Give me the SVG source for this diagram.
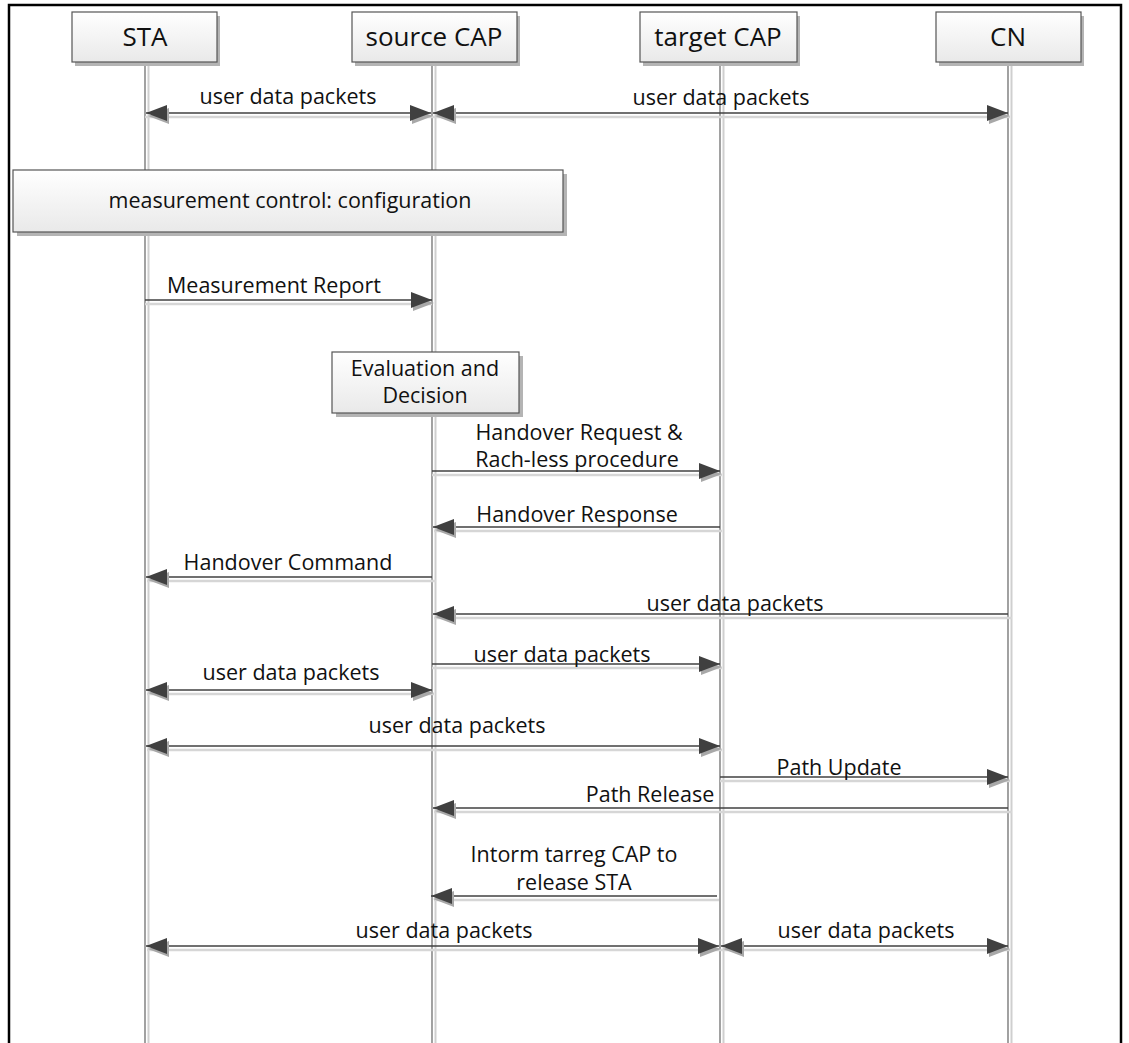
<svg xmlns="http://www.w3.org/2000/svg" width="1129" height="1043" viewBox="0 0 1129 1043">
<defs>
<linearGradient id="boxg" x1="0" y1="0" x2="0" y2="1">
<stop offset="0" stop-color="#ffffff"/>
<stop offset="1" stop-color="#e9e9e9"/>
</linearGradient>
<marker id="hR" markerUnits="userSpaceOnUse" markerWidth="30" markerHeight="30" refX="23" refY="12" orient="0" overflow="visible">
<path d="M4,7 L25,15 L4,23 Z" fill="#a8a8a8"/>
<path d="M2,4 L23,12 L2,20 Z" fill="#404040"/>
</marker>
<marker id="hL" markerUnits="userSpaceOnUse" markerWidth="30" markerHeight="30" refX="1" refY="12" orient="0" overflow="visible">
<path d="M24,7 L3,15 L24,23 Z" fill="#a8a8a8"/>
<path d="M22,4 L1,12 L22,20 Z" fill="#404040"/>
</marker>
</defs>
<style>
text{font-family:"Open Sans","Noto Sans","DejaVu Sans",sans-serif;fill:#111;}
.hd{font-size:26px;text-anchor:middle;}
.lb{font-size:21.5px;text-anchor:middle;}
.box{fill:url(#boxg);stroke:#555;stroke-width:1.2;}
.shd{fill:#b4b4b4;}
.ll{stroke:#555;stroke-width:1.1;}
.lls{stroke:#cfcfcf;stroke-width:2;}
.m{stroke:#404040;stroke-width:1.3;fill:none;}
.ms{stroke:#d6d6d6;stroke-width:2.5;fill:none;}
</style>
<rect width="1129" height="1043" fill="#fff"/>
<rect x="9" y="5" width="1112" height="1060" fill="none" stroke="#000" stroke-width="2.5"/>

<g id="STA">
<line class="lls" x1="148.5" y1="62" x2="148.5" y2="1043"/>
<line class="ll" x1="145" y1="62" x2="145" y2="1043"/>
<rect class="shd" x="75" y="16" width="145" height="50"/>
<rect class="box" x="72" y="12" width="145" height="50"/>
<text class="hd" x="145" y="46">STA</text>
</g>
<g id="sourceCAP">
<line class="lls" x1="435.5" y1="62" x2="435.5" y2="1043"/>
<line class="ll" x1="432" y1="62" x2="432" y2="1043"/>
<rect class="shd" x="355" y="16" width="165" height="50"/>
<rect class="box" x="352" y="12" width="165" height="50"/>
<text class="hd" x="434" y="46">source CAP</text>
</g>
<g id="targetCAP">
<line class="lls" x1="723.5" y1="62" x2="723.5" y2="1043"/>
<line class="ll" x1="720" y1="62" x2="720" y2="1043"/>
<rect class="shd" x="643" y="16" width="157" height="50"/>
<rect class="box" x="640" y="12" width="157" height="50"/>
<text class="hd" x="718" y="46">target CAP</text>
</g>
<g id="CN">
<line class="lls" x1="1011.5" y1="62" x2="1011.5" y2="1043"/>
<line class="ll" x1="1008" y1="62" x2="1008" y2="1043"/>
<rect class="shd" x="939" y="16" width="145" height="50"/>
<rect class="box" x="936" y="12" width="145" height="50"/>
<text class="hd" x="1008" y="46">CN</text>
</g>

<g id="measurementControl">
<rect class="shd" x="17" y="174" width="550" height="62"/>
<rect class="box" x="13" y="170" width="550" height="62"/>
<text class="lb" x="290" y="208">measurement control: configuration</text>
</g>
<g id="evaluation">
<rect class="shd" x="336" y="356" width="187" height="61"/>
<rect class="box" x="332" y="352" width="187" height="61"/>
<text class="lb" x="425" y="376">Evaluation and</text>
<text class="lb" x="425" y="403">Decision</text>
</g>

<g id="connectors">
<g id="shadows">
<line class="ms" x1="145" y1="117" x2="432" y2="117"/>
<line class="ms" x1="432" y1="117" x2="1010" y2="117"/>
<line class="ms" x1="145" y1="304" x2="432" y2="304"/>
<line class="ms" x1="432" y1="475" x2="722" y2="475"/>
<line class="ms" x1="434" y1="531" x2="722" y2="531"/>
<line class="ms" x1="147" y1="581" x2="436" y2="581"/>
<line class="ms" x1="434" y1="618" x2="1012" y2="618"/>
<line class="ms" x1="432" y1="668" x2="722" y2="668"/>
<line class="ms" x1="147" y1="694" x2="434" y2="694"/>
<line class="ms" x1="147" y1="750" x2="722" y2="750"/>
<line class="ms" x1="720" y1="781" x2="1010" y2="781"/>
<line class="ms" x1="434" y1="812" x2="1012" y2="812"/>
<line class="ms" x1="434" y1="900" x2="719" y2="900"/>
<line class="ms" x1="147" y1="950" x2="722" y2="950"/>
<line class="ms" x1="722" y1="950" x2="1010" y2="950"/>
</g>
<line class="m" x1="146" y1="113" x2="431" y2="113" marker-start="url(#hL)" marker-end="url(#hR)"/>
<line class="m" x1="433" y1="113" x2="1008" y2="113" marker-start="url(#hL)" marker-end="url(#hR)"/>
<line class="m" x1="145" y1="300" x2="432" y2="300" marker-end="url(#hR)"/>
<line class="m" x1="432" y1="471" x2="720" y2="471" marker-end="url(#hR)"/>
<line class="m" x1="720" y1="527" x2="433" y2="527" marker-end="url(#hL)"/>
<line class="m" x1="432" y1="577" x2="146" y2="577" marker-end="url(#hL)"/>
<line class="m" x1="1008" y1="614" x2="433" y2="614" marker-end="url(#hL)"/>
<line class="m" x1="432" y1="664" x2="720" y2="664" marker-end="url(#hR)"/>
<line class="m" x1="146" y1="690" x2="432" y2="690" marker-start="url(#hL)" marker-end="url(#hR)"/>
<line class="m" x1="146" y1="746" x2="720" y2="746" marker-start="url(#hL)" marker-end="url(#hR)"/>
<line class="m" x1="720" y1="777" x2="1008" y2="777" marker-end="url(#hR)"/>
<line class="m" x1="1008" y1="808" x2="433" y2="808" marker-end="url(#hL)"/>
<line class="m" x1="717" y1="896" x2="431" y2="896" marker-end="url(#hL)"/>
<line class="m" x1="146" y1="946" x2="719" y2="946" marker-start="url(#hL)" marker-end="url(#hR)"/>
<line class="m" x1="721" y1="946" x2="1008" y2="946" marker-start="url(#hL)" marker-end="url(#hR)"/>
</g>

<g id="labels">
<text class="lb" x="288" y="104">user data packets</text>
<text class="lb" x="721" y="105">user data packets</text>
<text class="lb" x="274" y="293">Measurement Report</text>
<text class="lb" x="579" y="440">Handover Request &amp;</text>
<text class="lb" x="577" y="467">Rach-less procedure</text>
<text class="lb" x="577" y="522">Handover Response</text>
<text class="lb" x="288" y="570">Handover Command</text>
<text class="lb" x="735" y="611">user data packets</text>
<text class="lb" x="562" y="662">user data packets</text>
<text class="lb" x="291" y="680">user data packets</text>
<text class="lb" x="457" y="733">user data packets</text>
<text class="lb" x="839" y="775">Path Update</text>
<text class="lb" x="650" y="802">Path Release</text>
<text class="lb" x="574" y="862">Intorm tarreg CAP to</text>
<text class="lb" x="574" y="890">release STA</text>
<text class="lb" x="444" y="938">user data packets</text>
<text class="lb" x="866" y="938">user data packets</text>
</g>
</svg>
